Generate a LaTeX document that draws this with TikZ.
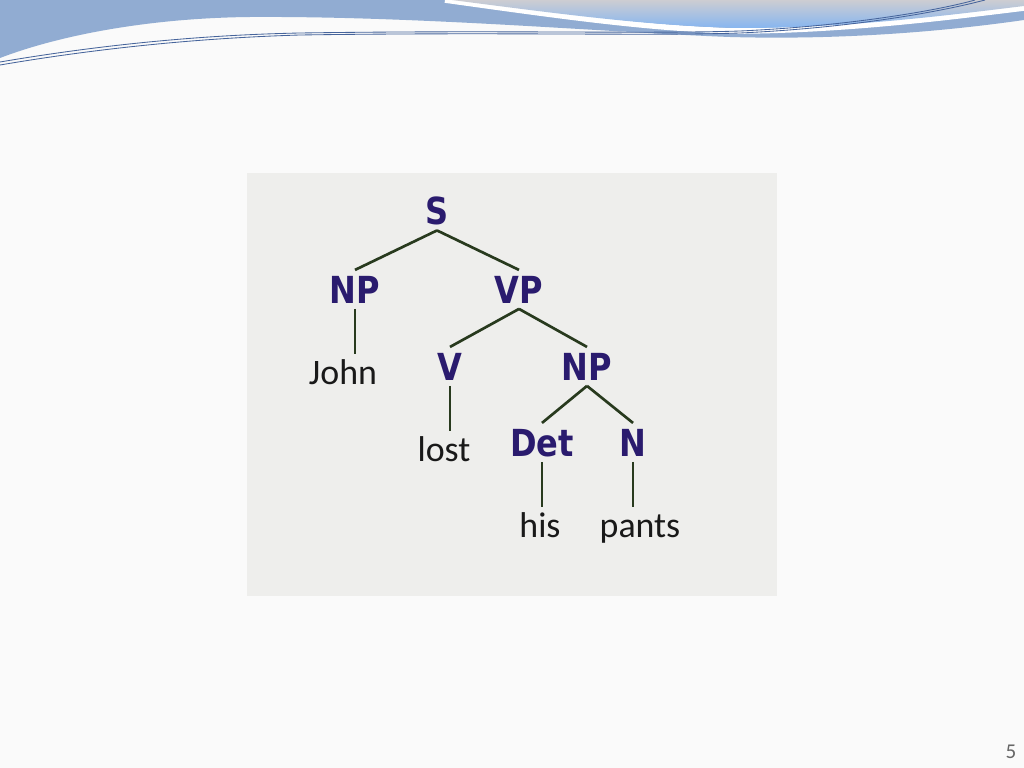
\documentclass[tikz,border=0pt]{standalone}
\usepackage{fontspec}
\setmainfont{Carlito}
\newfontfamily\catfont[FakeStretch=0.86]{DejaVu Sans}
\definecolor{slidebg}{RGB}{250,250,250}
\definecolor{boxgray}{RGB}{238,238,236}
\definecolor{catblue}{RGB}{42,27,110}
\definecolor{branchgreen}{RGB}{40,58,30}
\definecolor{hdrblue}{RGB}{145,172,210}
\definecolor{hdrline}{RGB}{70,100,155}
\tikzset{
  cat/.style={font=\catfont\bfseries\fontsize{26.5}{30}\selectfont,text=catblue,inner sep=4pt,anchor=base},
  word/.style={font=\fontsize{25.5}{28}\selectfont,text=black!90,inner sep=4pt,anchor=base,text height=17pt},
  branch/.style={draw=branchgreen,line width=1.9pt},
}
\begin{document}
\begin{tikzpicture}[x=0.025cm,y=-0.025cm]
  \fill[slidebg] (0,0) rectangle (1024,768);
  \useasboundingbox (0,0) rectangle (1024,768);
  % header waves
  \fill[hdrblue] (0,0) -- (1024,0) -- (1024,20) .. controls (940,32) and (840,40) .. (730,37)
    .. controls (600,32) and (420,16) .. (250,17) .. controls (150,18) and (60,35) .. (0,58) -- cycle;
  \draw[white,line width=4pt] (445,0) .. controls (560,16) and (650,29) .. (740,31) .. controls (850,30) and (950,17) .. (1024,8);
  \shade[top color={rgb,255:red,205;green,205;blue,210},bottom color={rgb,255:red,135;green,182;blue,240}]
    (452,0) .. controls (560,14) and (650,26) .. (740,28) .. controls (850,28) and (950,15) .. (1024,6) -- (1024,0) -- cycle;
  \draw[hdrline,line width=0.6pt] (0,62) .. controls (100,45) and (200,35) .. (300,33)
    .. controls (500,30) and (650,34) .. (740,31) .. controls (850,26) and (940,10) .. (975,0);
  \draw[hdrline,line width=0.6pt] (0,65) .. controls (100,48) and (200,38) .. (300,35)
    .. controls (500,32) and (650,36) .. (740,33) .. controls (850,28) and (940,12) .. (985,0);
  % tree panel
  \fill[boxgray] (247,173) rectangle (777,596);
  \node[cat] (s) at (437,224) {S};
  \node[cat] (np1) at (355,303) {NP};
  \node[cat] (vp) at (519,303) {VP};
  \node[word] (john) at (343,384) {John};
  \node[cat] (v) at (450,380) {V};
  \node[cat] (np2) at (587,380) {NP};
  \node[word] (lost) at (444,461) {lost};
  \node[cat] (det) at (542,456) {Det};
  \node[cat] (n) at (633,456) {N};
  \node[word] (his) at (540,537) {his};
  \node[word] (pants) at (640,537) {pants};
  \draw[branch] (s.south) -- (np1.north);
  \draw[branch] (s.south) -- (vp.north);
  \draw[branch] (np1.south) -- (np1.south |- john.north);
  \draw[branch] (vp.south) -- (v.north);
  \draw[branch] (vp.south) -- (np2.north);
  \draw[branch] (v.south) -- (v.south |- lost.north);
  \draw[branch] (np2.south) -- (det.north);
  \draw[branch] (np2.south) -- (n.north);
  \draw[branch] (det.south) -- (det.south |- his.north);
  \draw[branch] (n.south) -- (n.south |- pants.north);
  % page number
  \node[text=black!60,font=\fontsize{15}{18}\selectfont] (pagenum) at (1011,752) {5};
\end{tikzpicture}
\end{document}
